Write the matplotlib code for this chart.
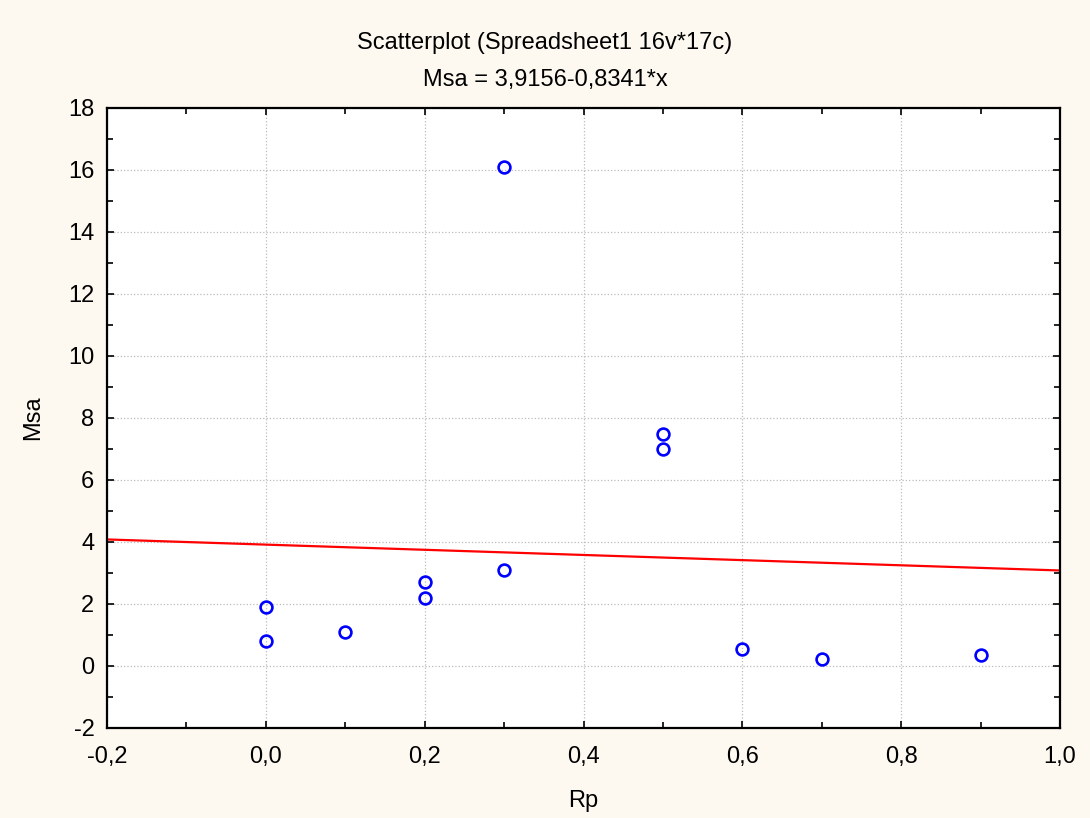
import matplotlib
matplotlib.use('Agg')
import matplotlib.pyplot as plt
from matplotlib.ticker import MultipleLocator, FuncFormatter
import numpy as np

plt.rcParams['font.family'] = ['Liberation Sans', 'DejaVu Sans']

# data
rp = [0.0, 0.0, 0.1, 0.2, 0.2, 0.3, 0.3, 0.5, 0.5, 0.6, 0.7, 0.9]
msa = [1.9, 0.8, 1.1, 2.7, 2.2, 3.1, 16.1, 7.5, 7.0, 0.55, 0.22, 0.35]
fit_a = 3.9156
fit_b = -0.8341

fig = plt.figure(figsize=(10.9, 8.18), dpi=100)
fig.patch.set_facecolor('#fdf9f0')
ax = fig.add_axes([107/1090, 1 - 728/818, (1060-107)/1090, (728-108)/818])
ax.set_facecolor('white')

ax.plot(rp, msa, 'o', mfc='none', mec='#0000ff', mew=1.9, ms=8.5, zorder=3)
xl = np.array([-0.2, 1.0])
ax.plot(xl, fit_a + fit_b*xl, '-', color='#ff0000', lw=1.6, zorder=2)

ax.set_xlim(-0.2, 1.0)
ax.set_ylim(-2, 18)
ax.xaxis.set_major_locator(MultipleLocator(0.2))
ax.xaxis.set_minor_locator(MultipleLocator(0.1))
ax.yaxis.set_major_locator(MultipleLocator(2))
ax.yaxis.set_minor_locator(MultipleLocator(1))
ax.xaxis.set_major_formatter(FuncFormatter(lambda v, p: ('%.1f' % v).replace('.', ',')))
ax.yaxis.set_major_formatter(FuncFormatter(lambda v, p: '%d' % round(v)))
ax.tick_params(which='both', direction='in', top=True, right=True, width=1.2, labelsize=17, colors='black')
ax.tick_params(which='major', length=5)
ax.tick_params(which='minor', length=4)
ax.tick_params(axis='x', which='major', pad=13)
ax.tick_params(axis='y', which='major', pad=9)
ax.grid(True, which='major', ls=':', color='#bbbbbb', lw=0.9)
for s in ax.spines.values():
    s.set_linewidth(1.6)

fig.text(0.5, 1 - 43/818, 'Scatterplot (Spreadsheet1 16v*17c)', ha='center', va='center', fontsize=17)
fig.text(0.5, 1 - 80/818, 'Msa = 3,9156-0,8341*x', ha='center', va='center', fontsize=17)
ax.set_xlabel('Rp', fontsize=17, labelpad=16)
ax.set_ylabel('Msa', fontsize=17, labelpad=17)

fig.savefig('out.png', dpi=100, facecolor=fig.get_facecolor())
